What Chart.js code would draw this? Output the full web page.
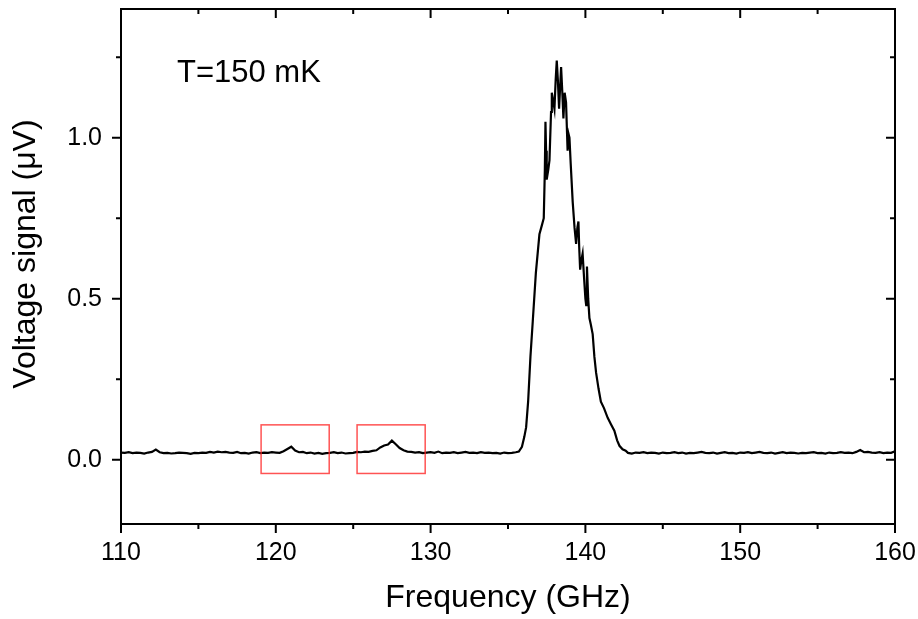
<!DOCTYPE html>
<html>
<head>
<meta charset="utf-8">
<title>Voltage signal vs frequency</title>
<script src="https://cdn.jsdelivr.net/npm/chart.js@4.4.1/dist/chart.umd.min.js"></script>
<style>
  html, body { margin: 0; padding: 0; background: #fff; }
  .chart-box { width: 918px; height: 619px; }
</style>
</head>
<body>
<div class="chart-box"><canvas id="spectrum"></canvas></div>
<script>
// baseline below the peak (GHz / uV)
const freq_low = [
  110.00, 110.25, 110.50, 110.75, 111.00, 111.25, 111.50, 111.75, 112.00, 112.25,
  112.50, 112.75, 113.00, 113.25, 113.50, 113.75, 114.00, 114.25, 114.50, 114.75,
  115.00, 115.25, 115.50, 115.75, 116.00, 116.25, 116.50, 116.75, 117.00, 117.25,
  117.50, 117.75, 118.00, 118.25, 118.50, 118.75, 119.00, 119.25, 119.50, 119.75,
  120.00, 120.25, 120.50, 120.75, 121.00, 121.25, 121.50, 121.75, 122.00, 122.25,
  122.50, 122.75, 123.00, 123.25, 123.50, 123.75, 124.00, 124.25, 124.50, 124.75,
  125.00, 125.25, 125.50, 125.75, 126.00, 126.25, 126.50, 126.75, 127.00, 127.25,
  127.50, 127.75, 128.00, 128.25, 128.50, 128.75, 129.00, 129.25, 129.50, 129.75,
  130.00, 130.25, 130.50, 130.75, 131.00, 131.25, 131.50, 131.75, 132.00, 132.25,
  132.50, 132.75, 133.00, 133.25, 133.50, 133.75, 134.00, 134.25, 134.50, 134.75,
  135.00, 135.25, 135.50
]
const volt_low = [
  0.022, 0.021, 0.023, 0.020, 0.022, 0.021, 0.019, 0.022, 0.024, 0.031,
  0.023, 0.020, 0.021, 0.019, 0.020, 0.022, 0.021, 0.020, 0.018, 0.021,
  0.020, 0.022, 0.021, 0.024, 0.022, 0.025, 0.023, 0.024, 0.022, 0.021,
  0.024, 0.020, 0.021, 0.019, 0.022, 0.023, 0.020, 0.022, 0.021, 0.023,
  0.022, 0.021, 0.026, 0.033, 0.040, 0.028, 0.023, 0.024, 0.020, 0.022,
  0.019, 0.021, 0.018, 0.020, 0.021, 0.023, 0.020, 0.022, 0.019, 0.020,
  0.021, 0.024, 0.023, 0.025, 0.024, 0.027, 0.029, 0.038, 0.044, 0.047,
  0.059, 0.048, 0.036, 0.029, 0.025, 0.024, 0.022, 0.023, 0.020, 0.022,
  0.023, 0.021, 0.025, 0.020, 0.022, 0.021, 0.023, 0.020, 0.022, 0.024,
  0.021, 0.022, 0.020, 0.023, 0.021, 0.022, 0.020, 0.021, 0.019, 0.022,
  0.020, 0.021, 0.023
]

// main peak
const freq_peak = [
  135.70, 135.90, 136.05, 136.17, 136.30, 136.45, 136.60, 136.80, 137.03, 137.20,
  137.31, 137.38, 137.42, 137.46, 137.50, 137.60, 137.68, 137.78, 137.83, 137.90,
  138.00, 138.08, 138.15, 138.22, 138.30, 138.37, 138.43, 138.50, 138.58, 138.66,
  138.75, 138.85, 138.92, 138.97, 139.05, 139.18, 139.30, 139.40, 139.48, 139.55,
  139.60, 139.66, 139.74, 139.82, 139.92, 140.00, 140.05, 140.10, 140.18, 140.26,
  140.35, 140.47, 140.58, 140.69, 140.85, 141.00, 141.20, 141.44, 141.65, 141.87,
  142.05, 142.20, 142.40, 142.60
]
const volt_peak = [
  0.025, 0.040, 0.070, 0.100, 0.180, 0.320, 0.430, 0.580, 0.700, 0.730,
  0.750, 0.900, 1.050, 0.960, 0.870, 0.900, 0.930, 1.080, 1.140, 1.120,
  1.090, 1.180, 1.240, 1.180, 1.090, 1.160, 1.220, 1.150, 1.060, 1.140,
  1.110, 0.960, 1.010, 1.000, 0.920, 0.800, 0.720, 0.670, 0.720, 0.740,
  0.660, 0.590, 0.620, 0.640, 0.560, 0.500, 0.480, 0.600, 0.500, 0.440,
  0.420, 0.390, 0.320, 0.270, 0.220, 0.180, 0.160, 0.130, 0.110, 0.090,
  0.060, 0.043, 0.032, 0.028
]

// baseline above the peak
const freq_high = [
  142.75, 143.00, 143.25, 143.50, 143.75, 144.00, 144.25, 144.50, 144.75, 145.00,
  145.25, 145.50, 145.75, 146.00, 146.25, 146.50, 146.75, 147.00, 147.25, 147.50,
  147.75, 148.00, 148.25, 148.50, 148.75, 149.00, 149.25, 149.50, 149.75, 150.00,
  150.25, 150.50, 150.75, 151.00, 151.25, 151.50, 151.75, 152.00, 152.25, 152.50,
  152.75, 153.00, 153.25, 153.50, 153.75, 154.00, 154.25, 154.50, 154.75, 155.00,
  155.25, 155.50, 155.75, 156.00, 156.25, 156.50, 156.75, 157.00, 157.25, 157.50,
  157.75, 158.00, 158.25, 158.50, 158.75, 159.00, 159.25, 159.50, 159.75, 160.00
]
const volt_high = [
  0.021, 0.019, 0.022, 0.021, 0.023, 0.020, 0.022, 0.021, 0.019, 0.022,
  0.020, 0.021, 0.023, 0.020, 0.022, 0.019, 0.021, 0.020, 0.022, 0.024,
  0.021, 0.020, 0.022, 0.019, 0.021, 0.023, 0.020, 0.021, 0.019, 0.022,
  0.021, 0.023, 0.020, 0.022, 0.024, 0.021, 0.020, 0.022, 0.019, 0.021,
  0.023, 0.020, 0.022, 0.021, 0.019, 0.021, 0.020, 0.022, 0.023, 0.020,
  0.021, 0.019, 0.022, 0.020, 0.021, 0.023, 0.021, 0.022, 0.020, 0.024,
  0.030, 0.023, 0.024, 0.022, 0.021, 0.023, 0.020, 0.022, 0.021, 0.026
]

// axis ticks
const x_major = [110, 120, 130, 140, 150, 160]
const x_minor = [115, 125, 135, 145, 155]
const y_major = [0.0, 0.5, 1.0]
const y_minor = [0.25, 0.75, 1.25]

// red boxes around the small side peaks: [f_start, f_end, v_low, v_high]
const box_1 = [119.05, 123.45, -0.043, 0.108]
const box_2 = [125.25, 129.65, -0.043, 0.108]

const temp_label = 'T=150 mK'

const FONT = "'Liberation Sans', Arimo, Arial, sans-serif"

const points = []
const allFreq = freq_low.concat(freq_peak, freq_high)
const allVolt = volt_low.concat(volt_peak, volt_high)
allFreq.forEach((f, i) => points.push({ x: f, y: allVolt[i] }))

// no extra room for the edge tick labels
function noEdgePadding(s) {
  s.paddingLeft = 0
  s.paddingRight = 0
  s.paddingTop = 0
  s.paddingBottom = 0
}

// frame, ticks, boxes, label, y title
const decorPlugin = {
  id: 'decor',
  afterDraw(chart) {
    const ctx = chart.ctx
    const a = chart.chartArea
    const xs = chart.scales.x
    const ys = chart.scales.y
    ctx.save()

    // red boxes
    ctx.strokeStyle = 'rgba(255, 40, 40, 0.8)'
    ctx.lineWidth = 1.5
    ;[box_1, box_2].forEach(b => {
      const x0 = xs.getPixelForValue(b[0]), x1 = xs.getPixelForValue(b[1])
      const y0 = ys.getPixelForValue(b[3]), y1 = ys.getPixelForValue(b[2])
      ctx.strokeRect(x0, y0, x1 - x0, y1 - y0)
    })

    // frame
    ctx.strokeStyle = '#000'
    ctx.lineWidth = 2
    ctx.strokeRect(a.left, a.top, a.right - a.left, a.bottom - a.top)

    // ticks
    ctx.beginPath()
    const xt = (v, len) => {
      const p = xs.getPixelForValue(v)
      ctx.moveTo(p, a.bottom); ctx.lineTo(p, a.bottom + len)
      ctx.moveTo(p, a.top); ctx.lineTo(p, a.top + len)
    }
    const yt = (v, len) => {
      const p = ys.getPixelForValue(v)
      ctx.moveTo(a.left, p); ctx.lineTo(a.left - len, p)
      ctx.moveTo(a.right, p); ctx.lineTo(a.right - len, p)
    }
    x_major.forEach(v => xt(v, 9))
    x_minor.forEach(v => xt(v, 5))
    y_major.forEach(v => yt(v, 9))
    y_minor.forEach(v => yt(v, 5))
    ctx.stroke()

    // temperature label
    ctx.fillStyle = '#000'
    ctx.font = '31px ' + FONT
    ctx.textAlign = 'left'
    ctx.textBaseline = 'alphabetic'
    ctx.fillText(temp_label, a.left + 56, a.top + 73)

    // y axis title
    ctx.translate(26, 254)
    ctx.rotate(-Math.PI / 2)
    ctx.font = '32px ' + FONT
    ctx.textAlign = 'center'
    ctx.textBaseline = 'middle'
    ctx.fillText('Voltage signal (\u03BCV)', 0, 0)
    ctx.restore()
  }
}

const ctx = document.getElementById('spectrum')

new Chart(ctx, {
  type: 'line',
  data: {
    datasets: [{
      label: 'signal',
      data: points,
      borderColor: '#000',
      borderWidth: 2.2,
      pointRadius: 0,
      tension: 0,
      fill: false
    }]
  },
  options: {
    responsive: true,
    maintainAspectRatio: false,
    animation: false,
    layout: { padding: { top: 9, right: 23, left: 0, bottom: 0 } },
    plugins: {
      legend: { display: false },
      tooltip: { enabled: false }
    },
    scales: {
      x: {
        type: 'linear',
        min: 110,
        max: 160,
        grid: { display: false, drawTicks: false, tickLength: 0 },
        border: { display: false },
        afterBuildTicks: s => { s.ticks = x_major.map(v => ({ value: v })) },
        afterFit: s => { s.height = 95; noEdgePadding(s) },
        ticks: {
          color: '#000',
          padding: 14,
          maxRotation: 0,
          font: { family: FONT, size: 25 },
          callback: v => String(v)
        },
        title: {
          display: true,
          text: 'Frequency (GHz)',
          color: '#000',
          font: { family: FONT, size: 32 },
          padding: { top: 0, bottom: 2 }
        }
      },
      y: {
        type: 'linear',
        min: -0.2,
        max: 1.4,
        grid: { display: false, drawTicks: false, tickLength: 0 },
        border: { display: false },
        afterBuildTicks: s => { s.ticks = y_major.map(v => ({ value: v })) },
        afterFit: s => { s.width = 121; noEdgePadding(s) },
        ticks: {
          color: '#000',
          padding: 19,
          font: { family: FONT, size: 25 },
          callback: v => v.toFixed(1)
        }
      }
    }
  },
  plugins: [decorPlugin]
})
</script>
</body>
</html>
